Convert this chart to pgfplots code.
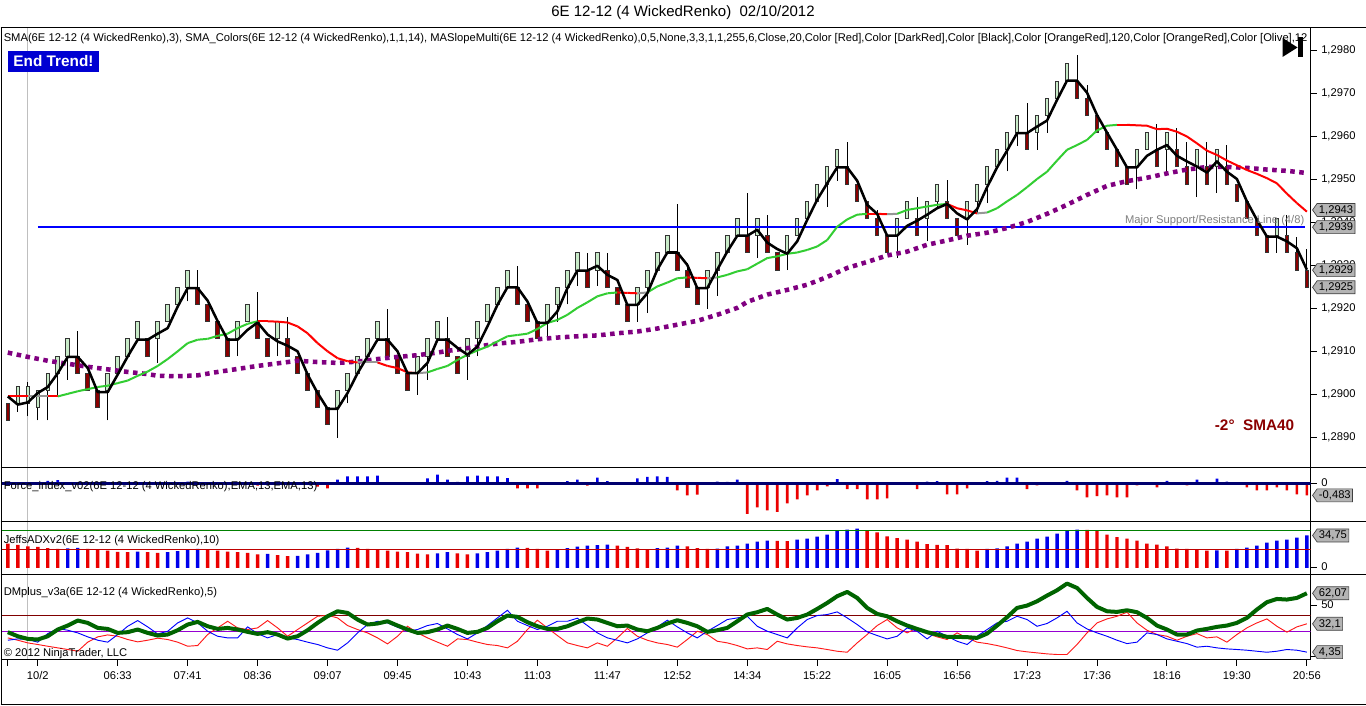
\documentclass[border=0pt]{standalone}
\usepackage{fontspec}
\setmainfont{Liberation Sans}
\usepackage{pgfplots}
\pgfplotsset{compat=1.18}
\usepackage{pgfplotstable}
\usetikzlibrary{shapes.symbols}

\definecolor{gbody}{RGB}{200,235,200}
\definecolor{rbody}{RGB}{139,0,0}
\definecolor{purp}{RGB}{128,0,128}
\definecolor{fblue}{RGB}{0,0,235}
\definecolor{fred}{RGB}{235,0,0}
\definecolor{navyz}{RGB}{0,0,110}
\definecolor{adxg}{RGB}{0,128,0}
\definecolor{adxr}{RGB}{190,0,0}
\definecolor{dmg}{RGB}{0,100,0}
\definecolor{dmr}{RGB}{128,0,0}
\definecolor{dmv}{RGB}{150,0,210}
\definecolor{endb}{RGB}{0,0,210}
\definecolor{tagg}{RGB}{180,180,180}

\newcommand{\lbl}{\fontsize{8.4}{10}\selectfont}

\pgfplotstableread{
i line lo d wl wh s sc
0 1.28996 1.2894 -1 1.2894 1.2898 1.28996 0
1 1.28977 1.2898 1 1.2896 1.2902 1.28996 0
2 1.28982 1.2898 1 1.2895 1.2903 1.28996 1
3 1.29004 1.2897 1 1.2894 1.2901 1.28996 1
4 1.29018 1.2901 1 1.2894 1.2905 1.28996 0
5 1.29050 1.2905 1 1.2900 1.2909 1.28996 2
6 1.29088 1.2909 1 1.29035 1.2913 1.29002 2
7 1.29088 1.2905 -1 1.2905 1.29149 1.29008 2
8 1.29062 1.2901 -1 1.2901 1.2905 1.29013 2
9 1.29006 1.2897 -1 1.2897 1.2901 1.29018 2
10 1.29006 1.2901 1 1.2894 1.2905 1.29021 2
11 1.29047 1.2905 1 1.2905 1.2909 1.29027 2
12 1.29089 1.2909 1 1.2909 1.2913 1.29033 2
13 1.29128 1.2913 1 1.2913 1.2917 1.29044 2
14 1.29128 1.2909 -1 1.2909 1.2913 1.29054 2
15 1.29142 1.2913 1 1.29074 1.2917 1.29067 2
16 1.29155 1.2917 1 1.2917 1.2921 1.29083 2
17 1.29205 1.2921 1 1.2921 1.2925 1.29101 2
18 1.29248 1.2925 1 1.29217 1.2929 1.29120 2
19 1.29248 1.2921 -1 1.2921 1.2929 1.29128 2
20 1.29219 1.2917 -1 1.2917 1.2921 1.29130 2
21 1.29171 1.2913 -1 1.2913 1.2917 1.29137 2
22 1.29128 1.2909 -1 1.2909 1.2913 1.29142 2
23 1.29128 1.2913 1 1.2909 1.2917 1.29155 2
24 1.29151 1.2917 1 1.2917 1.2921 1.29165 2
25 1.29168 1.2913 -1 1.2913 1.2924 1.29171 0
26 1.29140 1.2909 -1 1.2909 1.2913 1.29171 0
27 1.29124 1.2913 1 1.2909 1.2917 1.29170 0
28 1.29114 1.2909 -1 1.2909 1.2918 1.29168 0
29 1.29101 1.2905 -1 1.2905 1.2909 1.29159 0
30 1.29047 1.2901 -1 1.2901 1.2905 1.29143 0
31 1.29004 1.2897 -1 1.2897 1.2901 1.29120 0
32 1.28967 1.2893 -1 1.2893 1.2897 1.29101 0
33 1.28967 1.2897 1 1.2890 1.2901 1.29085 0
34 1.29004 1.2901 1 1.2898 1.2905 1.29078 0
35 1.29050 1.2905 1 1.2905 1.2909 1.29075 1
36 1.29089 1.2909 1 1.2909 1.2913 1.29075 1
37 1.29128 1.2913 1 1.2913 1.2917 1.29075 0
38 1.29128 1.2909 -1 1.2909 1.2920 1.29067 0
39 1.29101 1.2905 -1 1.2905 1.2909 1.29062 0
40 1.29050 1.2901 -1 1.2901 1.2905 1.29052 0
41 1.29050 1.2905 1 1.2900 1.2909 1.29050 1
42 1.29074 1.2909 1 1.29035 1.2913 1.29052 2
43 1.29128 1.2913 1 1.2913 1.2917 1.29060 2
44 1.29128 1.2909 -1 1.2909 1.2918 1.29067 2
45 1.29109 1.2905 -1 1.2905 1.2909 1.29081 2
46 1.29093 1.2909 1 1.29035 1.2913 1.29093 2
47 1.29112 1.2913 1 1.2909 1.2917 1.29103 2
48 1.29159 1.2917 1 1.2917 1.2921 1.29112 2
49 1.29209 1.2921 1 1.2921 1.2925 1.29124 2
50 1.29250 1.2925 1 1.2925 1.2929 1.29136 2
51 1.29250 1.2921 -1 1.2921 1.2930 1.29139 2
52 1.29217 1.2917 -1 1.2917 1.2921 1.29142 2
53 1.29167 1.2913 -1 1.2913 1.2917 1.29153 2
54 1.29167 1.2917 1 1.2913 1.2921 1.29167 2
55 1.29194 1.2921 1 1.2917 1.2925 1.29174 2
56 1.29248 1.2925 1 1.2921 1.2929 1.29186 2
57 1.29289 1.2929 1 1.29254 1.2933 1.29202 2
58 1.29289 1.2925 -1 1.2925 1.2933 1.29215 2
59 1.29300 1.2929 1 1.29254 1.2933 1.29229 2
60 1.29279 1.2925 -1 1.2925 1.2933 1.29236 2
61 1.29267 1.2921 -1 1.2921 1.2925 1.29238 0
62 1.29209 1.2917 -1 1.2917 1.2921 1.29237 0
63 1.29209 1.2921 1 1.2917 1.2925 1.29236 1
64 1.29236 1.2925 1 1.2919 1.2929 1.29238 2
65 1.29291 1.2929 1 1.2929 1.2933 1.29252 2
66 1.29331 1.2933 1 1.2933 1.2937 1.29261 2
67 1.29331 1.2929 -1 1.2929 1.29443 1.29271 2
68 1.29302 1.2925 -1 1.2925 1.29306 1.29273 0
69 1.29248 1.2921 -1 1.2921 1.2925 1.29272 0
70 1.29248 1.2925 1 1.2920 1.2929 1.29271 1
71 1.29291 1.2929 1 1.2923 1.2933 1.29273 2
72 1.29333 1.2933 1 1.2933 1.2937 1.29279 2
73 1.29370 1.2937 1 1.2937 1.2941 1.29287 2
74 1.29370 1.2933 -1 1.2933 1.2947 1.29292 2
75 1.29384 1.2937 1 1.29318 1.2941 1.29305 2
76 1.29354 1.2933 -1 1.2933 1.29419 1.29318 2
77 1.29339 1.2929 -1 1.2929 1.2933 1.29322 2
78 1.29328 1.2933 1 1.2929 1.2937 1.29328 2
79 1.29357 1.2937 1 1.2937 1.2941 1.29331 2
80 1.29407 1.2941 1 1.2941 1.2945 1.29337 2
81 1.29454 1.2945 1 1.2945 1.2949 1.29345 2
82 1.29492 1.2949 1 1.29438 1.2953 1.29360 2
83 1.29529 1.2953 1 1.29498 1.2957 1.29391 2
84 1.29529 1.2949 -1 1.2949 1.29589 1.29408 2
85 1.29498 1.2945 -1 1.2945 1.2949 1.29419 2
86 1.29442 1.2941 -1 1.2941 1.2945 1.29421 0
87 1.29421 1.2937 -1 1.2937 1.2943 1.29421 0
88 1.29370 1.2933 -1 1.2933 1.2937 1.29420 1
89 1.29370 1.2937 1 1.29318 1.2941 1.29421 2
90 1.29393 1.2941 1 1.2941 1.2945 1.29430 2
91 1.29405 1.2937 -1 1.2937 1.2946 1.29434 2
92 1.29419 1.2941 1 1.29357 1.2945 1.29438 2
93 1.29434 1.2945 1 1.29438 1.2949 1.29442 2
94 1.29444 1.2941 -1 1.2941 1.2950 1.29444 0
95 1.29422 1.2937 -1 1.2937 1.2941 1.29434 0
96 1.29408 1.2941 1 1.29349 1.2945 1.29429 0
97 1.29432 1.2945 1 1.29422 1.2949 1.29422 1
98 1.29483 1.2949 1 1.29446 1.2953 1.29424 2
99 1.29529 1.2953 1 1.2953 1.2957 1.29434 2
100 1.29568 1.2957 1 1.2952 1.2961 1.29450 2
101 1.29609 1.2961 1 1.2958 1.2965 1.29465 2
102 1.29609 1.2957 -1 1.2957 1.2968 1.29483 2
103 1.29624 1.2961 1 1.2957 1.2965 1.29502 2
104 1.29638 1.2965 1 1.2961 1.2969 1.29519 2
105 1.29686 1.2969 1 1.2969 1.2973 1.29545 2
106 1.29731 1.2973 1 1.2973 1.2977 1.29570 2
107 1.29731 1.2969 -1 1.2969 1.29791 1.29581 2
108 1.29703 1.2965 -1 1.2965 1.29721 1.29593 2
109 1.29651 1.2961 -1 1.2961 1.2965 1.29615 2
110 1.29610 1.2957 -1 1.2957 1.2961 1.29626 2
111 1.29570 1.2953 -1 1.2953 1.2957 1.29628 0
112 1.29529 1.2949 -1 1.2949 1.2953 1.29628 0
113 1.29529 1.2953 1 1.29478 1.2957 1.29627 0
114 1.29556 1.2957 1 1.2957 1.2961 1.29626 0
115 1.29570 1.2953 -1 1.2953 1.2963 1.29618 0
116 1.29581 1.2957 1 1.29519 1.2961 1.29619 0
117 1.29556 1.2953 -1 1.2953 1.2962 1.29612 0
118 1.29543 1.2949 -1 1.2949 1.29589 1.29601 0
119 1.29531 1.2953 1 1.2946 1.2957 1.29585 0
120 1.29517 1.2949 -1 1.2949 1.29589 1.29568 0
121 1.29543 1.2953 1 1.29469 1.2957 1.29558 0
122 1.29519 1.2949 -1 1.2949 1.29581 1.29545 0
123 1.29502 1.2945 -1 1.2945 1.2949 1.29534 0
124 1.29450 1.2941 -1 1.2941 1.2945 1.29523 0
125 1.29407 1.2937 -1 1.2937 1.2941 1.29514 0
126 1.29368 1.2933 -1 1.2933 1.2937 1.29504 0
127 1.29368 1.2937 1 1.2933 1.2941 1.29492 0
128 1.29357 1.2933 -1 1.2933 1.29419 1.29468 0
129 1.29341 1.2929 -1 1.2929 1.29368 1.29446 0
130 1.29291 1.2925 -1 1.2925 1.29339 1.29426 0
}\main

\pgfplotstableread{
i p
0 1.29098
2 1.29088
4 1.29079
6 1.29072
8 1.29065
10 1.29059
12 1.29053
14 1.29048
15 1.29044
17 1.29043
19 1.29045
21 1.29053
23 1.29060
25 1.29067
27 1.29073
29 1.29079
31 1.29076
33 1.29074
35 1.29077
37 1.29083
39 1.29088
41 1.29092
43 1.29098
44 1.29102
45 1.29105
47 1.29112
49 1.29119
51 1.29123
53 1.29129
55 1.29133
57 1.29136
59 1.29138
61 1.29143
63 1.29147
65 1.29154
67 1.29163
69 1.29172
71 1.29186
73 1.29202
74 1.29216
76 1.29233
78 1.29244
80 1.29256
82 1.29274
84 1.29295
86 1.29309
88 1.29324
90 1.29333
92 1.29349
94 1.29359
96 1.29370
98 1.29377
100 1.29388
102 1.29402
104 1.29421
106 1.29442
108 1.29465
110 1.29486
112 1.29497
114 1.29505
116 1.29515
118 1.29524
120 1.29530
122 1.29530
124 1.29528
126 1.29524
128 1.29521
130 1.29516
}\purp

\pgfplotstableread{
i f
0 -0.05
1 0
2 0
3 0.05
4 0.12
5 0.15
6 0.06
7 0
8 0
9 0
10 0
11 0
12 0
13 0
14 0
15 0
16 0
17 0.05
18 0.08
19 0
20 0
21 0
22 0
23 0
24 0
25 -0.08
26 0
27 0
28 0
29 0
30 0
31 -0.12
32 -0.19
33 0.165
34 0.30
35 0.30
36 0.30
37 0.33
38 0.05
39 0
40 0
41 0
42 0.22
43 0.37
44 0.165
45 0.07
46 0.30
47 0.33
48 0.30
49 0.30
50 0.23
51 -0.19
52 -0.19
53 -0.19
54 0
55 0
56 0.11
57 0.165
58 -0.08
59 0.25
60 0.11
61 0
62 0
63 0.22
64 0.28
65 0.30
66 0.28
67 -0.28
68 -0.48
69 -0.45
70 0
71 0.08
72 0.07
73 0.165
74 -1.25
75 -0.98
76 -1.10
77 -1.17
78 -0.81
79 -0.65
80 -0.48
81 -0.28
82 -0.11
83 0.19
84 -0.23
85 -0.23
86 -0.65
87 -0.65
88 -0.61
89 0
90 0
91 -0.23
92 0.08
93 0.11
94 -0.44
95 -0.44
96 -0.19
97 0
98 0.11
99 0.12
100 0.25
101 0.25
102 -0.23
103 -0.07
104 0
105 0
106 0.12
107 -0.28
108 -0.57
109 -0.52
110 -0.48
111 -0.57
112 -0.57
113 -0.07
114 0
115 -0.15
116 0.12
117 0
118 -0.07
119 0.165
120 0
121 0.21
122 0.08
123 0
124 -0.15
125 -0.28
126 -0.28
127 -0.15
128 -0.28
129 -0.44
130 -0.483
}\force

\pgfplotstableread{
i a c
0 26.1 0
1 24.6 0
2 23.2 0
3 22.5 0
4 21.1 0
5 20.4 0
6 20.9 1
7 21.4 1
8 20.4 0
9 19.0 0
10 18.6 0
11 17.2 0
12 16.8 0
13 17.5 1
14 16.8 0
15 16.1 0
16 16.8 1
17 17.9 1
18 19.6 1
19 20.4 1
20 20.0 0
21 18.6 0
22 17.5 0
23 16.8 0
24 16.1 0
25 14.6 0
26 15.0 1
27 13.6 0
28 12.5 0
29 12.9 1
30 14.6 1
31 16.1 1
32 18.9 1
33 20.4 1
34 21.8 1
35 21.4 0
36 20.4 0
37 19.3 0
38 18.6 0
39 17.5 0
40 16.8 0
41 15.4 0
42 14.6 0
43 15.7 1
44 16.8 1
45 15.7 0
46 14.6 0
47 15.7 1
48 16.8 1
49 18.6 1
50 20.4 1
51 21.8 1
52 21.4 0
53 20.4 0
54 18.6 0
55 20.0 1
56 21.1 1
57 22.9 1
58 23.9 1
59 24.3 1
60 25.0 1
61 23.9 0
62 22.5 0
63 20.8 0
64 20.0 0
65 21.1 1
66 21.8 1
67 23.9 1
68 23.2 0
69 21.1 0
70 20.4 0
71 20.7 1
72 23.2 1
73 23.9 1
74 26.1 1
75 28.2 1
76 29.3 1
77 28.9 0
78 28.6 0
79 30.4 1
80 31.4 1
81 33.6 1
82 35.7 1
83 39.3 1
84 41.1 1
85 42.1 1
86 40.0 0
87 38.2 0
88 33.9 0
89 31.8 0
90 30.4 0
91 28.2 0
92 25.4 0
93 24.6 0
94 24.3 0
95 20.7 0
96 20.4 0
97 18.6 0
98 20.4 1
99 20.8 1
100 23.2 1
101 26.1 1
102 28.2 1
103 31.4 1
104 33.6 1
105 36.8 1
106 40.0 1
107 41.1 1
108 40.8 0
109 39.3 0
110 35.7 0
111 32.9 0
112 31.4 0
113 29.3 0
114 26.1 0
115 25.0 0
116 23.2 0
117 20.7 0
118 20.4 0
119 20.1 0
120 18.6 0
121 18.8 1
122 18.5 0
123 20.4 1
124 21.8 1
125 23.9 1
126 27.1 1
127 29.3 1
128 30.4 1
129 32.5 1
130 34.75 1
}\adx

\pgfplotstableread{
i g b r
0 23.9 16.0 18.3
1 19.9 17.3 16.0
2 17.3 16.7 13.4
3 16.7 14.1 11.8
4 19.9 22.5 10.1
5 26.5 27.5 8.5
6 30.4 25.8 6.9
7 35.3 23.2 5.2
8 33.0 19.3 14.1
9 28.1 16.0 19.3
10 27.1 14.1 21.2
11 23.2 21.6 19.9
12 23.9 29.7 16.7
13 26.5 35.3 14.4
14 23.2 29.1 16.0
15 20.6 22.2 18.0
16 21.6 24.8 16.7
17 25.8 33.0 14.1
18 31.4 37.9 10.1
19 34.0 33.0 10.8
20 29.7 24.8 21.6
21 27.1 19.9 28.1
22 28.1 18.3 34.6
23 26.5 18.3 28.1
24 24.2 29.1 26.5
25 22.2 22.5 28.1
26 23.9 18.3 35.3
27 21.6 21.6 28.1
28 17.6 18.3 19.9
29 19.9 16.7 26.5
30 25.8 14.1 33.0
31 33.0 11.8 39.5
32 39.5 8.5 40.5
33 44.4 6.2 37.9
34 42.8 13.4 30.4
35 36.3 23.2 26.5
36 31.4 31.4 23.2
37 32.4 34.6 18.3
38 34.6 33.0 12.4
39 30.4 28.8 19.9
40 26.5 24.8 29.7
41 23.2 26.5 23.2
42 23.9 30.4 18.3
43 26.5 32.4 14.1
44 30.4 27.1 10.1
45 27.1 21.6 17.3
46 23.2 17.3 16.7
47 24.2 23.2 14.1
48 28.1 30.4 11.8
49 34.6 37.9 10.8
50 40.2 45.4 8.5
51 38.9 34.6 15.0
52 33.7 30.4 26.5
53 29.7 26.5 35.6
54 27.1 29.7 28.1
55 27.1 34.6 20.6
56 29.7 34.6 13.4
57 33.7 37.6 10.8
58 37.3 30.4 8.5
59 36.3 23.2 13.4
60 33.0 18.3 10.1
61 29.7 16.0 18.3
62 30.4 13.4 27.5
63 26.5 17.3 19.9
64 24.8 23.2 16.0
65 28.1 29.1 13.4
66 32.4 35.6 11.8
67 35.6 29.1 9.2
68 33.0 23.2 16.7
69 29.7 18.3 24.8
70 24.2 24.8 21.6
71 25.8 30.4 15.0
72 28.1 36.3 13.4
73 34.6 37.9 10.8
74 41.2 39.5 7.5
75 43.5 29.7 8.5
76 46.7 24.8 6.9
77 41.2 21.6 15.0
78 36.3 18.3 12.4
79 37.9 28.1 10.8
80 41.2 36.3 9.5
81 46.7 40.2 8.5
82 52.6 41.2 6.9
83 59.2 43.8 5.2
84 63.4 37.9 4.2
85 57.5 31.4 13.4
86 47.7 24.2 21.6
87 41.8 20.6 30.4
88 39.5 17.3 36.3
89 34.6 19.9 28.1
90 30.4 28.1 23.2
91 27.1 24.8 28.1
92 23.9 17.3 22.5
93 21.6 24.8 19.3
94 19.3 19.9 16.7
95 19.3 15.0 23.2
96 19.0 11.8 18.3
97 18.3 19.9 14.1
98 22.5 26.5 12.7
99 30.4 33.0 10.8
100 38.6 34.6 8.5
101 47.7 39.5 5.9
102 50.0 36.3 4.6
103 54.2 29.7 3.6
104 59.8 32.4 2.6
105 65.0 37.9 2.0
106 71.6 44.4 2.0
107 67.3 33.0 11.8
108 57.5 27.1 23.2
109 48.7 23.2 33.0
110 44.4 19.9 36.9
111 43.8 16.0 39.5
112 45.4 12.7 43.5
113 43.5 14.1 33.0
114 37.9 23.2 25.8
115 30.4 21.6 21.6
116 26.5 17.3 19.9
117 21.6 15.0 16.0
118 21.6 12.7 19.9
119 25.5 9.2 22.5
120 27.1 10.1 18.3
121 29.1 8.5 19.3
122 30.4 7.5 14.1
123 33.0 6.9 21.6
124 37.9 6.2 28.1
125 46.1 5.2 33.0
126 53.3 4.2 36.9
127 56.5 5.2 29.7
128 55.9 6.9 23.9
129 57.5 6.2 29.1
130 62.07 4.35 32.1
}\dm

\pgfplotstableread{
i v
3 1.2939
129.8 1.2939
}\supline

\pgfplotsset{
  panel/.style={
    scale only axis, width=982.5pt, xmin=-0.63, xmax=130.37,
    anchor=north west, clip mode=individual,
    axis line style={line width=0.75pt, black},
    tick align=outside, ytick pos=right, yticklabel pos=right,
    major tick length=4.5pt,
    every tick/.style={black, line width=0.75pt},
    tick label style={font=\lbl},
    typeset ticklabels with strut,
    /pgf/number format/assume math mode=true,
    xtick=\empty, scaled y ticks=false,
  },
}
\tikzset{
  tag/.style={signal, signal to=west, signal pointer angle=110, draw=black!75,
    fill=tagg, font=\lbl, inner ysep=1.4pt, inner xsep=1.4pt, anchor=west,
    xshift=1.2pt, line width=0.5pt},
}

\begin{document}
\begin{tikzpicture}
\begin{scope}[x=0.75pt,y=-0.75pt]
  \useasboundingbox (0,0) rectangle (1366,706);
  \fill[white] (0,0) rectangle (1366,706);
  \draw[black!25, line width=0.75pt] (27.3,28) -- (27.3,660);
\end{scope}

% ---------------- main price panel
\begin{axis}[panel, at={(0.75pt,-21pt)}, height=330pt,
  ymin=1.288302, ymax=1.298535,
  ytick={1.289,1.290,1.291,1.292,1.293,1.294,1.295,1.296,1.297,1.298},
  yticklabel style={/pgf/number format/.cd, fixed, fixed zerofill, precision=4, use comma},
  colormap={smac}{rgb255=(255,0,0) rgb255=(150,150,150) rgb255=(50,205,50)},
  point meta min=0, point meta max=2]
  % wicks
  \addplot[draw=none, mark=none, forget plot, error bars/.cd, y dir=plus, y explicit,
     error mark=none, error bar style={draw=black, line width=0.75pt}]
     table[x=i, y=wl, y error expr=\thisrow{wh}-\thisrow{wl}]{\main};
  % up bodies
  \addplot[draw=none, mark=none, forget plot, restrict expr to domain={\thisrow{d}}{0:2},
     error bars/.cd, y dir=both, y fixed=0.0002116, error mark=none,
     error bar style={draw=black!80, line width=3.4pt}]
     table[x=i, y expr=\thisrow{lo}+0.0002]{\main};
  \addplot[draw=none, mark=none, forget plot, restrict expr to domain={\thisrow{d}}{0:2},
     error bars/.cd, y dir=both, y fixed=0.0001884, error mark=none,
     error bar style={draw=gbody, line width=1.9pt}]
     table[x=i, y expr=\thisrow{lo}+0.0002]{\main};
  % down bodies
  \addplot[draw=none, mark=none, forget plot, restrict expr to domain={\thisrow{d}}{-2:0},
     error bars/.cd, y dir=both, y fixed=0.0002116, error mark=none,
     error bar style={draw=black!80, line width=3.4pt}]
     table[x=i, y expr=\thisrow{lo}+0.0002]{\main};
  \addplot[draw=none, mark=none, forget plot, restrict expr to domain={\thisrow{d}}{-2:0},
     error bars/.cd, y dir=both, y fixed=0.0001884, error mark=none,
     error bar style={draw=rbody, line width=1.9pt}]
     table[x=i, y expr=\thisrow{lo}+0.0002]{\main};
  % support / resistance line
  \addplot[blue, line width=1pt, mark=none] table[x=i,y=v]{\supline};
  % SMA 40 purple dotted
  \addplot[purp, line width=3.4pt, dash pattern=on 3.4pt off 3.4pt] table[x=i,y=p]{\purp};
  % SMA 14 coloured
  \addplot[mesh, shader=flat corner, line width=1.5pt, point meta=\thisrow{sc}] table[x=i,y=s]{\main};
  % SMA 3
  \addplot[black, line width=1.9pt, line join=round] table[x=i,y=line]{\main};
  % tags
  \node[tag] at (axis cs:130.37,1.2943) {1,2943};
  \node[tag] at (axis cs:130.37,1.2939) {1,2939};
  \node[tag] at (axis cs:130.37,1.2929) {1,2929};
  \node[tag] at (axis cs:130.37,1.2925) {1,2925};
\end{axis}

% ---------------- force index
\begin{axis}[panel, at={(0.75pt,-351pt)}, height=40.5pt,
  ymin=-1.569, ymax=0.661, ytick={0}]
  \addplot[ybar, bar width=2pt, bar shift=0pt, fill=fblue, draw=none, restrict y to domain=0.001:5] table[x=i,y=f]{\force};
  \addplot[ybar, bar width=2pt, bar shift=0pt, fill=fred, draw=none, restrict y to domain=-5:-0.001] table[x=i,y=f]{\force};
  \addplot[navyz, line width=2pt] coordinates {(-0.63,0) (130.37,0)};
  \node[tag] at (axis cs:130.37,-0.483) {-0,483};
\end{axis}

% ---------------- ADX
\begin{axis}[panel, at={(0.75pt,-391.5pt)}, height=39.75pt,
  ymin=-7.18, ymax=49.6, ytick={0}]
  \addplot[ybar, bar width=2.6pt, bar shift=0pt, fill=fblue, draw=none, restrict expr to domain={\thisrow{c}}{0.5:1.5}] table[x=i,y=a]{\adx};
  \addplot[ybar, bar width=2.6pt, bar shift=0pt, fill=fred, draw=none, restrict expr to domain={\thisrow{c}}{-0.5:0.5}] table[x=i,y=a]{\adx};
  \addplot[adxg, line width=0.75pt] coordinates {(-0.63,40) (130.37,40)};
  \addplot[adxr, line width=0.75pt] coordinates {(-0.63,20) (130.37,20)};
  \node[tag] at (axis cs:130.37,34.75) {34,75};
\end{axis}

% ---------------- DMplus
\begin{axis}[panel, at={(0.75pt,-431.25pt)}, height=63.75pt,
  ymin=-2.94, ymax=80.4, ytick={0,50},
  xtick={0,3,11,18,25,32,39,46,53,60,67,74,81,88,95,102,109,116,123,130},
  xticklabels={,10/2,06:33,07:41,08:36,09:07,09:45,10:43,11:03,11:47,12:52,14:34,15:22,16:05,16:56,17:23,17:36,18:16,19:30,20:56},
  xtick pos=left]
  \addplot[dmr, line width=0.75pt] coordinates {(-0.63,40) (130.37,40)};
  \addplot[dmv, line width=0.75pt] coordinates {(-0.63,25) (130.37,25)};
  \addplot[red!90!white, line width=0.7pt] table[x=i,y=r]{\dm};
  \addplot[blue, line width=0.7pt] table[x=i,y=b]{\dm};
  \addplot[dmg, line width=3pt, line join=round] table[x=i,y=g]{\dm};
  \node[tag] at (axis cs:130.37,62.07) {62,07};
  \node[tag] at (axis cs:130.37,32.1) {32,1};
  \node[tag] at (axis cs:130.37,4.35) {4,35};
\end{axis}

\begin{scope}[x=0.75pt,y=-0.75pt]
  % separators and frame
  \draw[line width=0.75pt] (0,28) -- (1366,28);
  \draw[line width=0.75pt] (0,468) -- (1366,468);
  \draw[line width=0.75pt] (0,522) -- (1366,522);
  \draw[line width=0.75pt] (0,575) -- (1366,575);
  \draw[line width=0.75pt] (0,705.5) -- (1366,705.5);
  \draw[line width=0.75pt] (0.5,28) -- (0.5,706);
  % title
  \node[font=\fontsize{11.25}{13}\selectfont] at (683,13) {6E 12-12 (4 WickedRenko)\ \ 02/10/2012};
  % header
  \begin{scope}
    \clip (1,28) rectangle (1311,468);
    \node[anchor=west, inner sep=0pt, font=\lbl] at (3,38.5) {SMA(6E 12-12 (4 WickedRenko),3), SMA\_Colors(6E 12-12 (4 WickedRenko),1,1,14), MASlopeMulti(6E 12-12 (4 WickedRenko),0,5,None,3,3,1,1,255,6,Close,20,Color [Red],Color [DarkRed],Color [Black],Color [OrangeRed],120,Color [OrangeRed],Color [Olive],12};
  \end{scope}
  % End Trend box
  \fill[endb] (7.5,51) rectangle (98.5,72);
  \node[text=white, font=\fontsize{11.5}{13}\bfseries] at (53,61.5) {End Trend!};
  % play icon
  \fill (1283,38) -- (1298,47.5) -- (1283,57) -- cycle;
  \fill (1298.5,37.5) rectangle (1303.5,57.5);
  % SMA40 slope text
  \node[anchor=west, inner sep=0pt, text=rbody, font=\fontsize{11.5}{13}\bfseries] at (1215,426) {-2°\ \ SMA40};
  % support line label
  \node[anchor=east, inner sep=0pt, text=black!50, font=\lbl] at (1305,221) {Major Support/Resistance Line (4/8)};
  % panel labels
  \node[anchor=west, inner sep=0pt, font=\lbl] at (3,486.5) {Force\_index\_v02(6E 12-12 (4 WickedRenko),EMA,13,EMA,13)};
  \node[anchor=west, inner sep=0pt, font=\lbl] at (3,540.5) {JeffsADXv2(6E 12-12 (4 WickedRenko),10)};
  \node[anchor=west, inner sep=0pt, font=\lbl] at (3,593) {DMplus\_v3a(6E 12-12 (4 WickedRenko),5)};
  \node[anchor=west, inner sep=0pt, font=\lbl] at (3,654) {© 2012 NinjaTrader, LLC};
\end{scope}
\end{tikzpicture}
\end{document}
